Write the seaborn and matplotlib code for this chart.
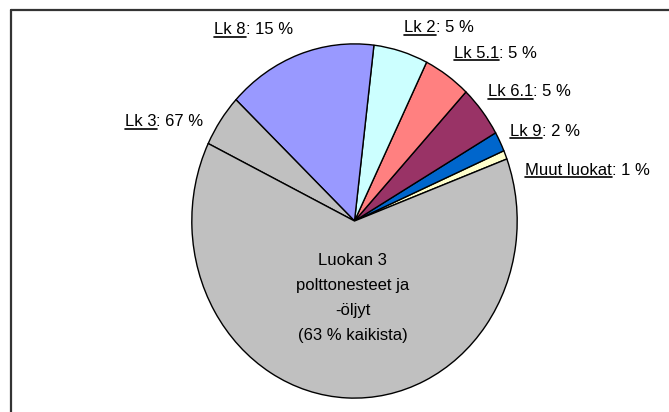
import matplotlib
matplotlib.use("Agg")
import matplotlib.pyplot as plt
import seaborn as sns
from matplotlib.lines import Line2D

sns.set_theme(style="white")
plt.rcParams['font.family'] = ['Liberation Sans', 'DejaVu Sans']

# Osuudet (%) vastapäivään alkaen "Muut luokat" -sektorista
nimet = ["Muut luokat", "Lk 9", "Lk 6.1", "Lk 5.1", "Lk 2", "Lk 8", "Lk 3", "Lk 3 (polttonesteet)"]
osuudet = [0.8, 1.8, 4.7, 4.7, 5.4, 14.9, 4.8, 62.9]
varit = ["#FFFFCC", "#0066CC", "#993366", "#FF8080", "#CCFFFF", "#9999FF", "#C0C0C0", "#C0C0C0"]

# Selitetekstit
tekstit = ["Muut luokat", "Lk 9", "Lk 6.1", "Lk 5.1", "Lk 2", "Lk 8", "Lk 3"]
prosentit = ["1 %", "2 %", "5 %", "5 %", "5 %", "15 %", "67 %"]
# tekstien paikat (pikseleinä, vasen reuna ja keskikorkeus ylhäältä)
paikat = [(525, 170), (510, 131), (488, 92), (454, 53), (404, 28), (214, 30), (125, 122)]

keskiteksti = "Luokan 3\npolttonesteet ja\n-öljyt\n(63 % kaikista)"

W, H = 669, 412
fig = plt.figure(figsize=(W / 100, H / 100), dpi=100)
fig.patch.set_facecolor("white")

# kehys: vain vasen ja ylä reuna näkyvät
fig.add_artist(Line2D([11 / W, 11 / W], [0, 1 - 10 / H], transform=fig.transFigure,
                      color="#333333", lw=1.6))
fig.add_artist(Line2D([11 / W, 1], [1 - 10 / H, 1 - 10 / H], transform=fig.transFigure,
                      color="#333333", lw=1.6))

# piirakka venytettynä ellipsiksi
x0, x1, y0, y1 = 191, 518, 43, 399
ax = fig.add_axes([x0 / W, 1 - y1 / H, (x1 - x0) / W, (y1 - y0) / H])
ax.pie(osuudet, colors=varit, startangle=20.5, counterclock=True, radius=1,
       wedgeprops=dict(edgecolor="black", linewidth=1.0))
ax.set_aspect("auto")
ax.set_xlim(-1.005, 1.005)
ax.set_ylim(-1.005, 1.005)
ax.axis("off")

ax.text(-0.01, -0.435, keskiteksti, ha="center", va="center", fontsize=12,
        linespacing=1.85, color="black")

fig.canvas.draw()
renderer = fig.canvas.get_renderer()
for nimi, pros, (px, py) in zip(tekstit, prosentit, paikat):
    t1 = fig.text(px / W, 1 - py / H, nimi, ha="left", va="center", fontsize=12, color="black")
    bb = t1.get_window_extent(renderer)
    fig.text(bb.x1 / W, 1 - py / H, ": " + pros, ha="left", va="center", fontsize=12, color="black")
    uy = (bb.y0 + 0.5) / H
    fig.add_artist(Line2D([bb.x0 / W, bb.x1 / W], [uy, uy], transform=fig.transFigure,
                          color="black", lw=1.2))

fig.savefig("out.png", dpi=100)
